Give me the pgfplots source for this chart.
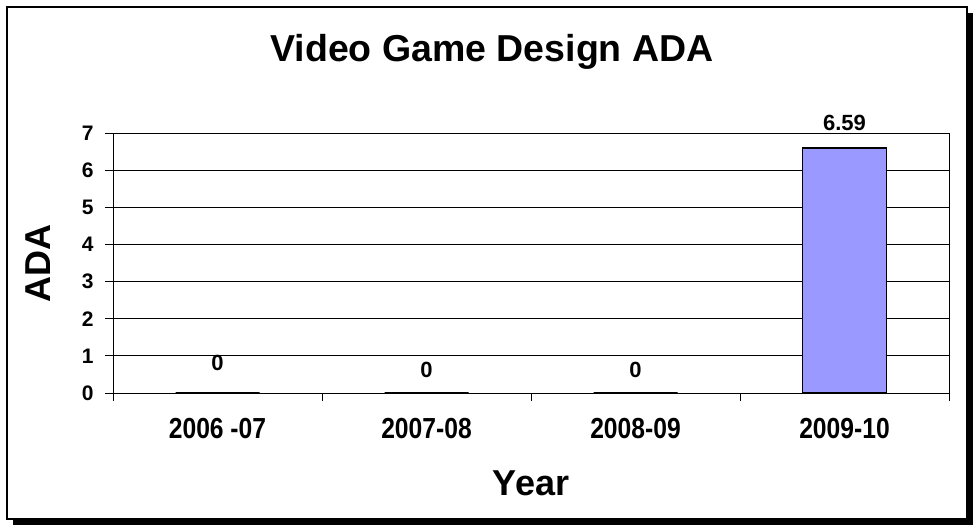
\documentclass[border=0pt]{standalone}
\usepackage{fontspec}
\setmainfont{Liberation Sans}
\newfontfamily\narrowfont[FakeStretch=0.85]{Liberation Sans}
\usepackage{pgfplots}
\usepackage{pgfplotstable}
\pgfplotsset{compat=1.18}
\definecolor{barfill}{HTML}{9999FF}

\pgfplotstableread{
x y off
0 0 23
1 0 16
2 0 16
3 6.59 17.5
}\adatable

\begin{document}
\begin{tikzpicture}[x=1pt,y=1pt]
  % page and framed chart area with shadow
  \path (0,0) rectangle (973,525);
  \fill[black] (13,0) rectangle (973,512);
  \filldraw[fill=white, draw=black, line width=2pt] (7,6) rectangle (967,518);

  \begin{axis}[
    at={(113pt,132pt)}, anchor=south west,
    scale only axis, width=836pt, height=260pt,
    /pgf/number format/assume math mode=true,
    xmin=-0.5, xmax=3.5, ymin=0, ymax=7,
    ytick={0,1,2,3,4,5,6,7},
    xtick={-0.5,0.5,1.5,2.5,3.5}, xticklabels={},
    extra x ticks={0,1,2,3},
    extra x tick labels={2006 -07,2007-08,2008-09,2009-10},
    extra x tick style={major tick length=0pt, grid=none,
      tick label style={yshift=-22pt}},
    xtick pos=bottom, ytick pos=left,
    tick align=outside, major tick length=8pt,
    ymajorgrids, grid style={black, line width=1pt},
    axis line style={black, line width=1pt},
    tick style={black, line width=1pt},
    tick label style={font=\fontsize{21}{23}\selectfont\bfseries},
    x tick label style={font=\fontsize{29}{31}\narrowfont\bfseries},
    yticklabel style={xshift=-8pt},
    title={Video Game Design ADA},
    title style={at={(axis description cs:0.4533,1.2527)}, anchor=base,
      font=\fontsize{37.5}{40}\selectfont\bfseries},
    xlabel={Year},
    xlabel style={at={(axis description cs:0.5,-0.346)}, anchor=center,
      font=\fontsize{36}{38}\selectfont\bfseries},
    ylabel={ADA},
    ylabel style={at={(axis description cs:-0.09,0.5)}, anchor=center,
      font=\fontsize{36}{38}\selectfont\bfseries},
  ]
    \addplot[ybar, bar width=84pt, fill=barfill, draw=black, line width=1.5pt,
      visualization depends on={\thisrow{off} \as \off},
      nodes near coords,
      nodes near coords style={anchor=base, yshift=\off pt,
        font=\fontsize{22}{24}\selectfont\bfseries},
    ] table[x=x, y=y] {\adatable};
  \end{axis}
\end{tikzpicture}
\end{document}
